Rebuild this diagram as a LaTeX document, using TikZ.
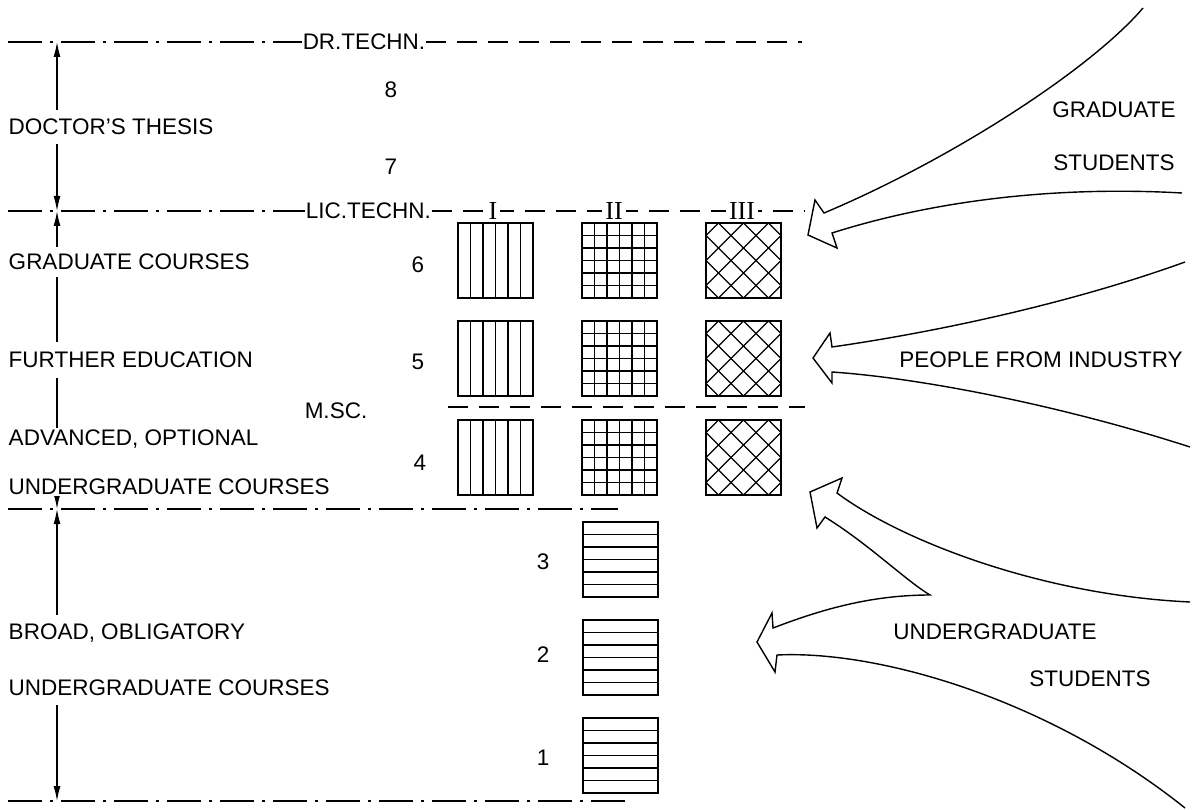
\documentclass[tikz,border=0pt]{standalone}
\usepackage{fontspec}
\setmainfont{Liberation Sans}
\newfontfamily\romanfont{Liberation Serif}
\usetikzlibrary{arrows.meta}

\tikzset{
  txt/.style={font=\fontsize{22.5}{27}\selectfont, inner sep=0pt},
  sidetxt/.style={txt, anchor=west, align=left, fill=white, inner ysep=9pt},
  romtxt/.style={font=\romanfont\fontsize{26}{28}\selectfont, inner xsep=3pt, inner ysep=0pt, fill=white},
  dashdot/.style={dash pattern=on 34pt off 8pt on 3pt off 8pt},
  dashline/.style={dash pattern=on 20pt off 11pt},
  dimline/.style={{Latex[length=15pt,width=7pt]}-{Latex[length=15pt,width=7pt]}, line width=1.3pt},
  hatch/.style={line width=1.2pt},
  bigarrow/.style={line width=1.4pt, line join=miter},
}

\begin{document}
\begin{tikzpicture}[x=1pt, y=-1pt, line width=1.5pt]
  \pgfmathsetmacro{\boxw}{75}
  \pgfmathsetmacro{\strip}{\boxw/6}
  \useasboundingbox (0,0) rectangle (1193,810);

  \coordinate (drL) at (8,42);
  \coordinate (drR) at (802,42);
  \coordinate (licL) at (8,211);
  \coordinate (licR) at (805,211);
  \coordinate (mscL) at (448,407);
  \coordinate (mscR) at (805,407);
  \coordinate (ugL) at (8,509);
  \coordinate (ugR) at (618,509);
  \coordinate (botL) at (8,801);
  \coordinate (botR) at (630,801);

  \node[txt, anchor=west] (drtechn) at (302,42) {DR.TECHN.};
  \node[txt, anchor=west] (lictechn) at (305,211) {LIC.TECHN.};
  \draw[dashdot] (drL) -- (drtechn.west);
  \draw[dashline] (drtechn.east) -- (drR);
  \draw[dashdot] (licL) -- (lictechn.west);
  \draw[dashline] (lictechn.east) -- (licR);
  \draw[dashline] (mscL) -- (mscR);
  \draw[dashdot] (ugL) -- (ugR);
  \draw[dashdot] (botL) -- (botR);

  \node[romtxt] (colI) at (493,211) {I};
  \node[romtxt] (colII) at (614,211) {II};
  \node[romtxt] (colIII) at (742,211) {III};
  \node[txt] (msc) at (336,411) {M.SC.};

  \coordinate (dimA) at (57,42);
  \coordinate (dimB) at (57,211);
  \coordinate (dimC) at (57,509);
  \coordinate (dimD) at (57,801);
  \draw[dimline] (dimA) -- (dimB);
  \draw[dimline] (dimB) -- (dimC);
  \draw[dimline] (dimC) -- (dimD);

  \node[sidetxt] (thesis) at (8,127) {DOCTOR'S THESIS};
  \node[sidetxt, inner ysep=7pt] (gradcourses) at (8,262) {GRADUATE COURSES};
  \node[sidetxt, inner ysep=10pt] (further) at (8,360) {FURTHER EDUCATION};
  \node[sidetxt, inner ysep=2pt, font=\fontsize{22.5}{49}\selectfont] (advanced) at (8,462)
    {ADVANCED, OPTIONAL\\UNDERGRADUATE COURSES};
  \node[sidetxt, font=\fontsize{22.5}{56}\selectfont] (broad) at (8,660)
    {BROAD, OBLIGATORY\\UNDERGRADUATE COURSES};

  \node[txt] (n8) at (391,90) {8};
  \node[txt] (n7) at (391,167) {7};
  \node[txt] (n6) at (418,265) {6};
  \node[txt] (n5) at (418,362) {5};
  \node[txt] (n4) at (420,463) {4};
  \node[txt] (n3) at (543,562) {3};
  \node[txt] (n2) at (543,655) {2};
  \node[txt] (n1) at (543,758) {1};

  \foreach \y in {223,321,420} {
    \draw (458,\y) rectangle ++(\boxw,\boxw);
    \foreach \k in {1,...,5}
      \draw[hatch] ({458+\k*\strip},\y) -- ++(0,\boxw);
  }
  \foreach \y in {223,321,420} {
    \draw (582,\y) rectangle ++(\boxw,\boxw);
    \foreach \k in {1,...,5} {
      \draw[hatch] ({582+\k*\strip},\y) -- ++(0,\boxw);
      \draw[hatch] (582,{\y+\k*\strip}) -- ++(\boxw,0);
    }
  }
  \foreach \y in {223,321,420} {
    \begin{scope}
      \clip (706,\y) rectangle ++(\boxw,\boxw);
      \foreach \k in {-3,...,5} {
        \draw[hatch] ({706+\strip+2*\strip*\k},\y) -- ++(90,90);
        \draw[hatch] ({706+\strip+2*\strip*\k},\y) -- ++(-90,90);
      }
    \end{scope}
    \draw (706,\y) rectangle ++(\boxw,\boxw);
  }
  \foreach \y in {522,620,718} {
    \draw (583,\y) rectangle ++(\boxw,\boxw);
    \foreach \k in {1,...,5}
      \draw[hatch] (583,{\y+\k*\strip}) -- ++(\boxw,0);
  }

  \draw[bigarrow] (1143,8) .. controls (1090,70) and (950,160) .. (824,213)
    -- (815,200) -- (808,235) -- (837,248) -- (832,233)
    .. controls (920,205) and (1040,185) .. (1182,193);
  \draw[bigarrow] (1185,262) .. controls (1080,300) and (950,330) .. (832,347)
    -- (830,333) -- (813,358) -- (832,383) -- (832,372)
    .. controls (920,378) and (1060,405) .. (1190,447);
  \draw[bigarrow] (1190,602) .. controls (1040,595) and (900,540) .. (837,493)
    -- (842,478) -- (810,492) -- (817,528) -- (825,517)
    .. controls (870,545) and (905,580) .. (930,595)
    .. controls (870,595) and (820,610) .. (773,628)
    -- (772,613) -- (757,642) -- (775,672) -- (777,655)
    .. controls (880,650) and (1050,700) .. (1185,808);

  \node[txt] (gradA) at (1114,110) {GRADUATE};
  \node[txt] (gradB) at (1114,163) {STUDENTS};
  \node[txt] (industry) at (1041,360) {PEOPLE FROM INDUSTRY};
  \node[txt] (ugradA) at (995,632) {UNDERGRADUATE};
  \node[txt] (ugradB) at (1090,679) {STUDENTS};
\end{tikzpicture}
\end{document}
